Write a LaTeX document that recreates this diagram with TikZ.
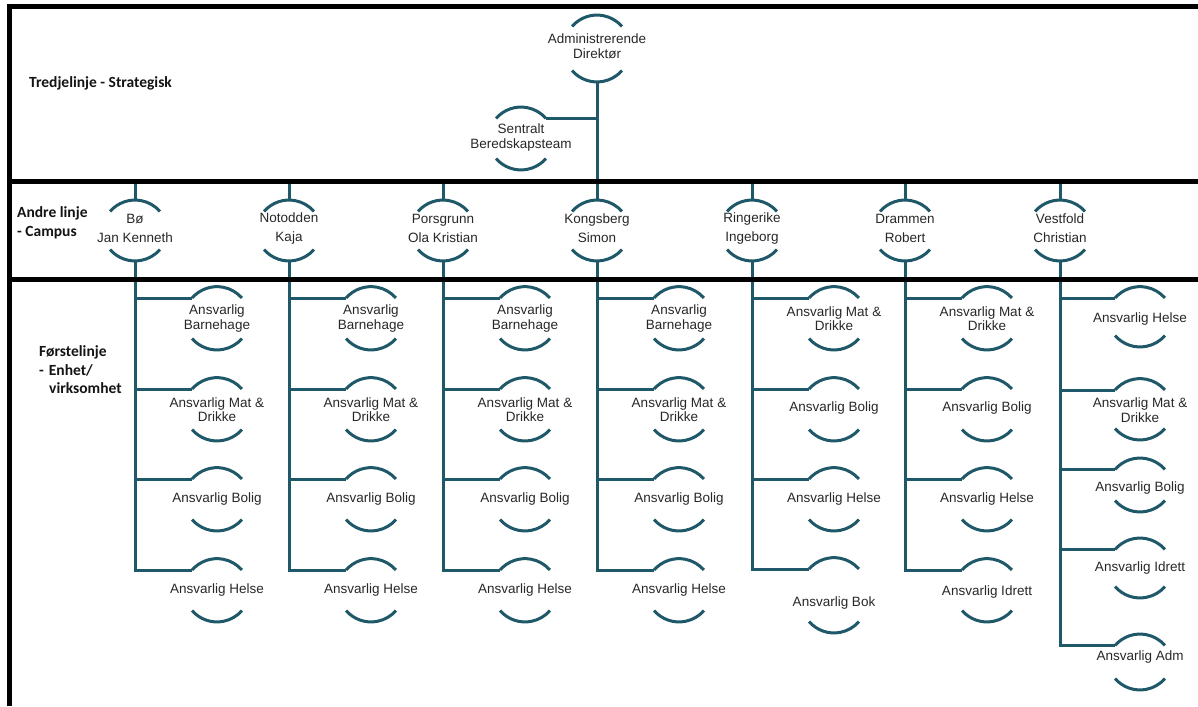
\documentclass[tikz,border=0pt]{standalone}
\usepackage{fontspec}
\setmainfont{Liberation Sans}
\newfontfamily\lblfont{Carlito}
\usetikzlibrary{calc}
\definecolor{tealline}{RGB}{31,88,104}
\definecolor{txtgray}{RGB}{40,40,40}
\definecolor{lblblack}{RGB}{20,20,20}
\tikzset{
  orgtext/.style={font=\fontsize{13.5}{14.5}\selectfont, align=center, inner sep=0pt, text=txtgray},
  camptext/.style={font=\fontsize{13.5}{19}\selectfont, align=center, inner sep=0pt, text=txtgray},
  arcline/.style={draw=tealline, line width=3pt},
  conn/.style={draw=tealline, line width=3pt, line join=miter},
  frameline/.style={draw=black, line width=5pt, line join=miter},
  lbl/.style={font=\lblfont\bfseries\fontsize{15.5}{18}\selectfont, anchor=west, inner sep=0pt, text=lblblack}
}
% name, x, ytext, ypeak, ybottom, text
\newcommand\orgnode[7][orgtext]{%
  \node[#1] (#2) at (#3,-#4) {#7};
  \coordinate (#2-t) at (#3,-#5);
  \coordinate (#2-b) at (#3,-#6);
  \coordinate (#2-l) at ($(#2-t)+(-24.9,-11.4)$);
  \coordinate (#2-r) at ($(#2-t)+(24.9,-11.4)$);
  \coordinate (#2-bl) at ($(#2-b)+(-24.9,11.4)$);
  \draw[arcline] (#2-l) arc[start angle=139,end angle=41,radius=33];
  \draw[arcline] (#2-bl) arc[start angle=221,end angle=319,radius=33];
}
\begin{document}
\begin{tikzpicture}[x=1pt,y=1pt]
\useasboundingbox (0,0) rectangle (1198,-706);
\fill[white] (0,0) rectangle (1198,-706);

% level labels
\node[lbl] (l3) at (29,-83) {Tredjelinje - Strategisk};
\node[lbl] (l2a) at (17,-213) {Andre linje};
\node[lbl] (l2b) at (17,-233) {- Campus};
\node[lbl] (l1a) at (39,-352) {Førstelinje};
\node[lbl] (l1b) at (39,-370) {-\hspace{5pt}Enhet/};
\node[lbl] (l1c) at (49,-388) {virksomhet};

% top level
\orgnode{adm}{597}{46}{15}{82}{Administrerende\\Direktør}
\orgnode{sent}{521}{137.5}{107}{170}{Sentralt\\Beredskapsteam}

% campus level
\orgnode[camptext]{bo}{135}{228.5}{200}{261}{Bø\\Jan Kenneth}
\orgnode[camptext]{not}{289}{228.5}{200}{261}{Notodden\\Kaja}
\orgnode[camptext]{por}{443}{228.5}{200}{261}{Porsgrunn\\Ola Kristian}
\orgnode[camptext]{kon}{597}{228.5}{200}{261}{Kongsberg\\Simon}
\orgnode[camptext]{rin}{752}{228.5}{200}{261}{Ringerike\\Ingeborg}
\orgnode[camptext]{dra}{905}{228.5}{200}{261}{Drammen\\Robert}
\orgnode[camptext]{ves}{1060}{228.5}{200}{261}{Vestfold\\Christian}

% Bø
\orgnode{c1a}{217}{318.5}{286.6}{350}{Ansvarlig\\Barnehage}
\orgnode{c1b}{217}{409.5}{377.6}{441}{Ansvarlig Mat \&\\Drikke}
\orgnode{c1c}{217}{499}{467.6}{531}{Ansvarlig Bolig}
\orgnode{c1d}{217}{590}{558.6}{622}{Ansvarlig Helse}
% Notodden
\orgnode{c2a}{371}{318.5}{286.6}{350}{Ansvarlig\\Barnehage}
\orgnode{c2b}{371}{409.5}{377.6}{441}{Ansvarlig Mat \&\\Drikke}
\orgnode{c2c}{371}{499}{467.6}{531}{Ansvarlig Bolig}
\orgnode{c2d}{371}{590}{558.6}{622}{Ansvarlig Helse}
% Porsgrunn
\orgnode{c3a}{525}{318.5}{286.6}{350}{Ansvarlig\\Barnehage}
\orgnode{c3b}{525}{409.5}{377.6}{441}{Ansvarlig Mat \&\\Drikke}
\orgnode{c3c}{525}{499}{467.6}{531}{Ansvarlig Bolig}
\orgnode{c3d}{525}{590}{558.6}{622}{Ansvarlig Helse}
% Kongsberg
\orgnode{c4a}{679}{318.5}{286.6}{350}{Ansvarlig\\Barnehage}
\orgnode{c4b}{679}{409.5}{377.6}{441}{Ansvarlig Mat \&\\Drikke}
\orgnode{c4c}{679}{499}{467.6}{531}{Ansvarlig Bolig}
\orgnode{c4d}{679}{590}{558.6}{622}{Ansvarlig Helse}
% Ringerike
\orgnode{c5a}{834}{318.5}{286.6}{350}{Ansvarlig Mat \&\\Drikke}
\orgnode{c5b}{834}{408.5}{377.6}{441}{Ansvarlig Bolig}
\orgnode{c5c}{834}{499}{467.6}{531}{Ansvarlig Helse}
\orgnode{c5d}{834}{603}{557.6}{633}{Ansvarlig Bok}
% Drammen
\orgnode{c6a}{987}{318.5}{286.6}{350}{Ansvarlig Mat \&\\Drikke}
\orgnode{c6b}{987}{408.5}{377.6}{441}{Ansvarlig Bolig}
\orgnode{c6c}{987}{499}{467.6}{531}{Ansvarlig Helse}
\orgnode{c6d}{987}{592}{558.6}{622}{Ansvarlig Idrett}
% Vestfold
\orgnode{c7a}{1140}{319}{286.6}{347}{Ansvarlig Helse}
\orgnode{c7b}{1140}{410}{378.6}{440}{Ansvarlig Mat \&\\Drikke}
\orgnode{c7c}{1140}{488}{458}{512}{Ansvarlig Bolig}
\orgnode{c7d}{1140}{568}{538}{598}{Ansvarlig Idrett}
\orgnode{c7e}{1140}{657}{634}{690}{Ansvarlig Adm}

% connectors
\coordinate (bus) at (0,-181.5);
\draw[conn] (adm-b) -- (kon-t);
\draw[conn] (sent-r) -- (sent-r -| adm-b);
\draw[conn] (bus -| bo-t) -- (bo-t);
\draw[conn] (bus -| not-t) -- (not-t);
\draw[conn] (bus -| por-t) -- (por-t);
\draw[conn] (bus -| rin-t) -- (rin-t);
\draw[conn] (bus -| dra-t) -- (dra-t);
\draw[conn] (bus -| ves-t) -- (ves-t);

\draw[conn] (bo-b) |- (c1d-l);
\draw[conn] (c1a-l -| bo-b) -- (c1a-l);
\draw[conn] (c1b-l -| bo-b) -- (c1b-l);
\draw[conn] (c1c-l -| bo-b) -- (c1c-l);

\draw[conn] (not-b) |- (c2d-l);
\draw[conn] (c2a-l -| not-b) -- (c2a-l);
\draw[conn] (c2b-l -| not-b) -- (c2b-l);
\draw[conn] (c2c-l -| not-b) -- (c2c-l);

\draw[conn] (por-b) |- (c3d-l);
\draw[conn] (c3a-l -| por-b) -- (c3a-l);
\draw[conn] (c3b-l -| por-b) -- (c3b-l);
\draw[conn] (c3c-l -| por-b) -- (c3c-l);

\draw[conn] (kon-b) |- (c4d-l);
\draw[conn] (c4a-l -| kon-b) -- (c4a-l);
\draw[conn] (c4b-l -| kon-b) -- (c4b-l);
\draw[conn] (c4c-l -| kon-b) -- (c4c-l);

\draw[conn] (rin-b) |- (c5d-l);
\draw[conn] (c5a-l -| rin-b) -- (c5a-l);
\draw[conn] (c5b-l -| rin-b) -- (c5b-l);
\draw[conn] (c5c-l -| rin-b) -- (c5c-l);

\draw[conn] (dra-b) |- (c6d-l);
\draw[conn] (c6a-l -| dra-b) -- (c6a-l);
\draw[conn] (c6b-l -| dra-b) -- (c6b-l);
\draw[conn] (c6c-l -| dra-b) -- (c6c-l);

\draw[conn] (ves-b) |- (c7e-l);
\draw[conn] (c7a-l -| ves-b) -- (c7a-l);
\draw[conn] (c7b-l -| ves-b) -- (c7b-l);
\draw[conn] (c7c-l -| ves-b) -- (c7c-l);
\draw[conn] (c7d-l -| ves-b) -- (c7d-l);

% frame lines
\draw[frameline] (9.5,-706) -- (9.5,-6.5) -- (1198,-6.5);
\draw[frameline] (9.5,-181.5) -- (1198,-181.5);
\draw[frameline] (9.5,-279) -- (1198,-279);
\end{tikzpicture}
\end{document}
